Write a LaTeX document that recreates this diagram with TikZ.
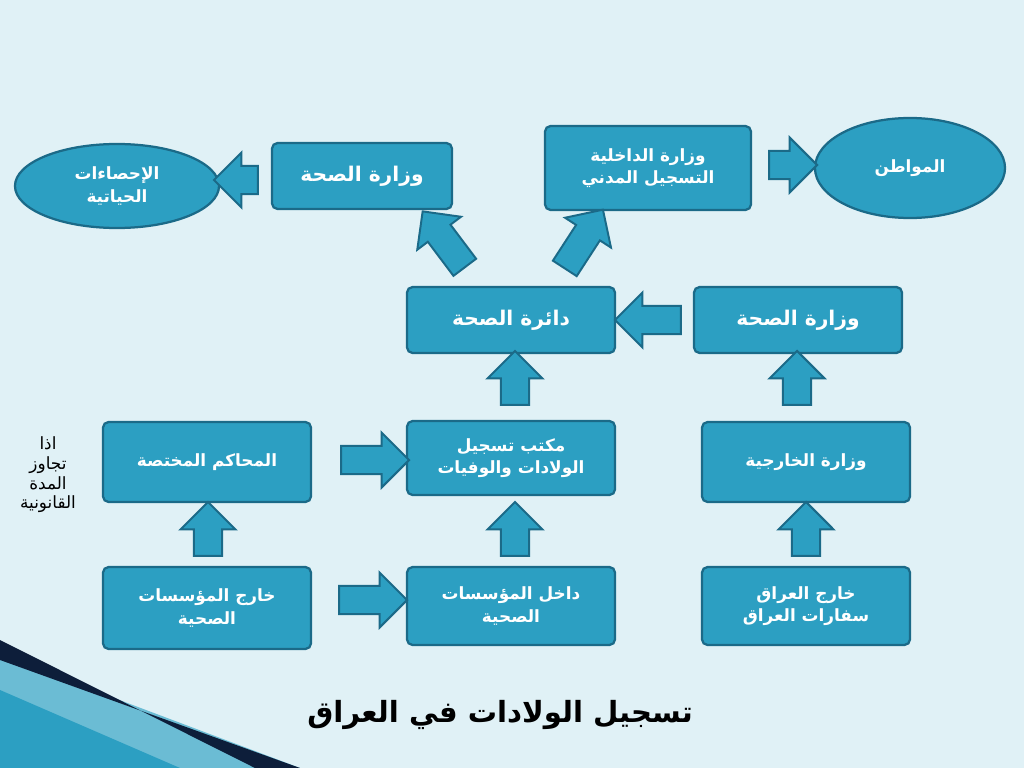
\documentclass[tikz,border=0pt]{standalone}
\usepackage{fontspec}
\newfontfamily\arabicfont[Script=Arabic]{DejaVu Sans}
\TeXXeTstate=1
\usetikzlibrary{shapes.geometric,shapes.arrows}
\definecolor{slidebg}{HTML}{E0F1F6}
\definecolor{boxfill}{HTML}{2C9FC2}
\definecolor{boxline}{HTML}{1B6A88}
\definecolor{navy}{HTML}{0D1E3A}
\newcommand{\ar}[1]{{\arabicfont\beginR #1\endR}}
\tikzset{
	infobox/.style={draw=boxline, line width=1.6pt, fill=boxfill, rounded corners=4pt,
		text=white, align=center, font=\arabicfont\bfseries\large, inner sep=0pt},
	infoellipse/.style={draw=boxline, line width=1.6pt, fill=boxfill, ellipse,
		text=white, align=center, font=\arabicfont\bfseries\large, inner sep=0pt},
	blockarrow/.style={single arrow, draw=boxline, line width=1.4pt, fill=boxfill,
		inner sep=0.33cm, single arrow head extend=0.33cm, minimum height=1.35cm}
}
\begin{document}
\begin{tikzpicture}[x={(0.025cm,0)}, y={(0,-0.025cm)}]

	% background
	\fill[slidebg] (0,0) rectangle (1024,768);
	\useasboundingbox (0,0) rectangle (1024,768);
	\fill[boxfill!70] (0,655) -- (0,768) -- (300,768) -- cycle;
	\fill[navy] (0,640) -- (0,660) -- (300,768) -- (255,768) -- cycle;
	\fill[boxfill] (0,690) -- (0,768) -- (180,768) -- cycle;

	% top row
	\node[infoellipse, minimum width=5.1cm, minimum height=2.1cm] (stats) at (117,186) {\ar{الإحصاءات}\\[2pt]\ar{الحياتية}};
	\node[infobox, minimum width=4.5cm, minimum height=1.65cm, font=\arabicfont\bfseries\Large] (healthtop) at (362,176) {\ar{وزارة الصحة}};
	\node[infobox, minimum width=5.15cm, minimum height=2.1cm] (interior) at (648,168) {\ar{وزارة الداخلية}\\[2pt]\ar{التسجيل المدني}};
	\node[infoellipse, minimum width=4.75cm, minimum height=2.5cm] (citizen) at (910,168) {\ar{المواطن}};

	% middle row
	\node[infobox, minimum width=5.2cm, minimum height=1.65cm, font=\arabicfont\bfseries\Large] (directorate) at (511,320) {\ar{دائرة الصحة}};
	\node[infobox, minimum width=5.2cm, minimum height=1.65cm, font=\arabicfont\bfseries\Large] (healthright) at (798,320) {\ar{وزارة الصحة}};

	% lower rows
	\node[infobox, minimum width=5.2cm, minimum height=2cm] (courts) at (207,462) {\ar{المحاكم المختصة}};
	\node[infobox, minimum width=5.2cm, minimum height=1.85cm] (office) at (511,458) {\ar{مكتب تسجيل}\\[2pt]\ar{الولادات والوفيات}};
	\node[infobox, minimum width=5.2cm, minimum height=2cm] (foreign) at (806,462) {\ar{وزارة الخارجية}};
	\node[infobox, minimum width=5.2cm, minimum height=2.05cm] (outside) at (207,608) {\ar{خارج المؤسسات}\\[2pt]\ar{الصحية}};
	\node[infobox, minimum width=5.2cm, minimum height=1.95cm] (inside) at (511,606) {\ar{داخل المؤسسات}\\[2pt]\ar{الصحية}};
	\node[infobox, minimum width=5.2cm, minimum height=1.95cm] (abroad) at (806,606) {\ar{خارج العراق}\\[2pt]\ar{سفارات العراق}};

	\node[align=center, font=\arabicfont\large] (note) at (48,475) {\ar{اذا}\\\ar{تجاوز}\\\ar{المدة}\\\ar{القانونية}};
	\node[font=\arabicfont\bfseries\huge] (title) at (500,715) {\ar{تسجيل الولادات في العراق}};

	% block arrows
	\node[blockarrow, rotate=90] (a1) at (515,385) {};
	\node[blockarrow, rotate=90] (a2) at (797,385) {};
	\node[blockarrow, rotate=90] (a3) at (515,536) {};
	\node[blockarrow, rotate=90] (a4) at (806,536) {};
	\node[blockarrow, rotate=90] (a5) at (208,536) {};
	\node[blockarrow, rotate=180, minimum height=1.65cm] (a6) at (655,320) {};
	\node[blockarrow, minimum height=1.7cm] (a7) at (366,600) {};
	\node[blockarrow, minimum height=1.7cm] (a8) at (368,460) {};
	\node[blockarrow, rotate=127, minimum height=1.75cm] (a9) at (448,245) {};
	\node[blockarrow, rotate=57, minimum height=1.75cm] (a10) at (580,245) {};
	\node[blockarrow, rotate=180, minimum height=1.1cm] (a11) at (243,180) {};
	\node[blockarrow, minimum height=1.2cm] (a12) at (786,165) {};
\end{tikzpicture}
\end{document}
